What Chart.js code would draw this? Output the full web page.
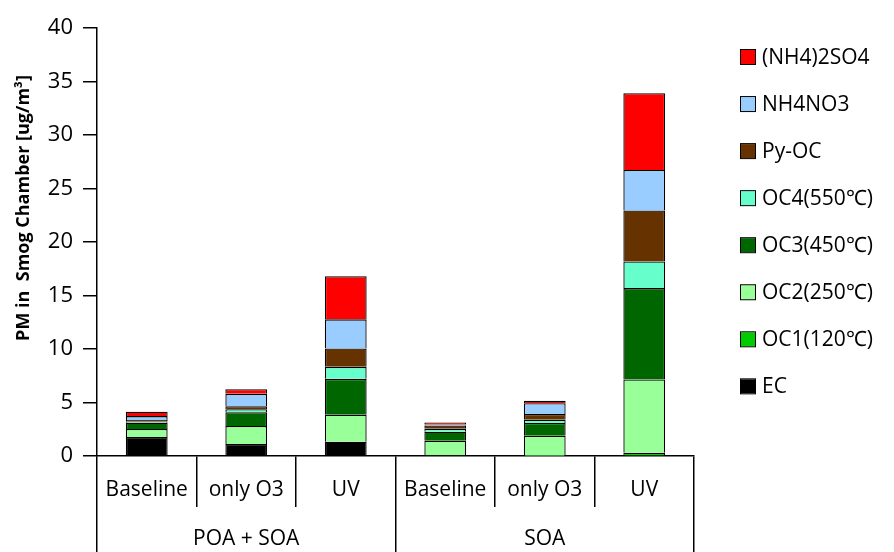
<!DOCTYPE html>
<html>
<head>
<meta charset="utf-8">
<script src="https://cdn.jsdelivr.net/npm/chart.js@4.4.1/dist/chart.umd.min.js"></script>
<style>
  html, body { margin: 0; padding: 0; background: #fff; }
  #wrap { width: 894px; height: 552px; }
</style>
</head>
<body>
<div id="wrap"><canvas id="pmChart"></canvas></div>
<script>
// categories (first row) and groups (second row)
const conditions = ['Baseline', 'only O3', 'UV', 'Baseline', 'only O3', 'UV'];
const groups = ['POA + SOA', 'SOA'];
const yTicks = [0, 5, 10, 15, 20, 25, 30, 35, 40];

// PM components [ug/m3]
const ec       = [1.77, 1.12, 1.33, 0.00, 0.00, 0.05];
const oc1      = [0.00, 0.00, 0.00, 0.00, 0.03, 0.26];
const oc2      = [0.75, 1.68, 2.52, 1.43, 1.87, 6.84];
const oc3      = [0.59, 1.30, 3.36, 0.84, 1.18, 8.54];
const oc4      = [0.10, 0.28, 1.12, 0.28, 0.31, 2.49];
const pyoc     = [0.15, 0.28, 1.71, 0.31, 0.53, 4.76];
const nh4no3   = [0.37, 1.15, 2.73, 0.08, 1.02, 3.79];
const nh42so4  = [0.40, 0.44, 4.03, 0.20, 0.22, 7.17];

const seriesNames = ['EC', 'OC1(120\u2103)', 'OC2(250\u2103)', 'OC3(450\u2103)', 'OC4(550\u2103)', 'Py-OC', 'NH4NO3', '(NH4)2SO4'];
const seriesValues = [ec, oc1, oc2, oc3, oc4, pyoc, nh4no3, nh42so4];
const seriesColors = ['#000000', '#00CC00', '#99FF99', '#006600', '#66FFCC', '#663300', '#99CCFF', '#FF0000'];

const FONT = '"Open Sans", Lato, sans-serif';

// legend on the right, top item = last series
const sideLegend = {
    id: 'sideLegend',
    afterDraw(chart) {
        const ctx = chart.ctx;
        const ds = chart.data.datasets;
        ctx.save();
        ctx.font = '21px ' + FONT;
        ctx.textBaseline = 'middle';
        ctx.textAlign = 'left';
        for (let i = 0; i < ds.length; i++) {
            const d = ds[ds.length - 1 - i];
            const y = 57 + i * 47.05;
            ctx.fillStyle = d.backgroundColor;
            ctx.fillRect(741, y - 7, 14, 14);
            ctx.strokeStyle = '#000';
            ctx.lineWidth = 1;
            ctx.strokeRect(740.5, y - 7.5, 15, 15);
            ctx.fillStyle = '#000';
            ctx.fillText(d.label, 762, y + 1);
        }
        // y axis title
        ctx.translate(24, 208);
        ctx.rotate(-Math.PI / 2);
        ctx.textAlign = 'center';
        ctx.font = 'bold 18px ' + FONT;
        ctx.fillText('PM in  Smog Chamber [ug/m\u00B3]', 0, 0);
        ctx.restore();
    }
};

const ctx = document.getElementById('pmChart').getContext('2d');

const pmChart = new Chart(ctx, {
    type: 'bar',
    data: {
        labels: conditions,
        datasets: seriesNames.map((name, i) => ({
            label: name,
            data: seriesValues[i],
            backgroundColor: seriesColors[i],
            borderColor: '#000',
            borderWidth: 1.3,
            barPercentage: 0.42,
            categoryPercentage: 1
        }))
    },
    options: {
        responsive: true,
        maintainAspectRatio: false,
        animation: false,
        layout: { padding: { top: 28, right: 200, left: 0, bottom: 0 } },
        plugins: {
            legend: { display: false },
            tooltip: { enabled: false }
        },
        scales: {
            x: {
                stacked: true,
                grid: { offset: true, drawOnChartArea: false, tickLength: 51, color: '#000', lineWidth: 1.5 },
                border: { color: '#000', width: 1.5 },
                ticks: { color: '#000', font: { family: FONT, size: 21 }, padding: -30, autoSkip: false, maxRotation: 0 },
                afterFit(scale) { scale.height = 51; }
            },
            x2: {
                type: 'category',
                position: 'bottom',
                labels: groups,
                grid: { offset: true, drawOnChartArea: false, tickLength: 45, color: '#000', lineWidth: 1.5 },
                border: { display: false },
                ticks: { color: '#000', font: { family: FONT, size: 21 }, padding: -26, autoSkip: false, maxRotation: 0 },
                afterFit(scale) { scale.height = 45; }
            },
            y: {
                stacked: true,
                min: 0,
                max: 40,
                afterBuildTicks(scale) { scale.ticks = yTicks.map(v => ({ value: v })); },
                grid: { drawOnChartArea: false, tickLength: 14, color: '#000', lineWidth: 1.5 },
                border: { color: '#000', width: 1.5 },
                ticks: { color: '#000', font: { family: FONT, size: 22 }, padding: 10 },
                afterFit(scale) { scale.width = 97; }
            }
        }
    },
    plugins: [sideLegend]
});
</script>
</body>
</html>
